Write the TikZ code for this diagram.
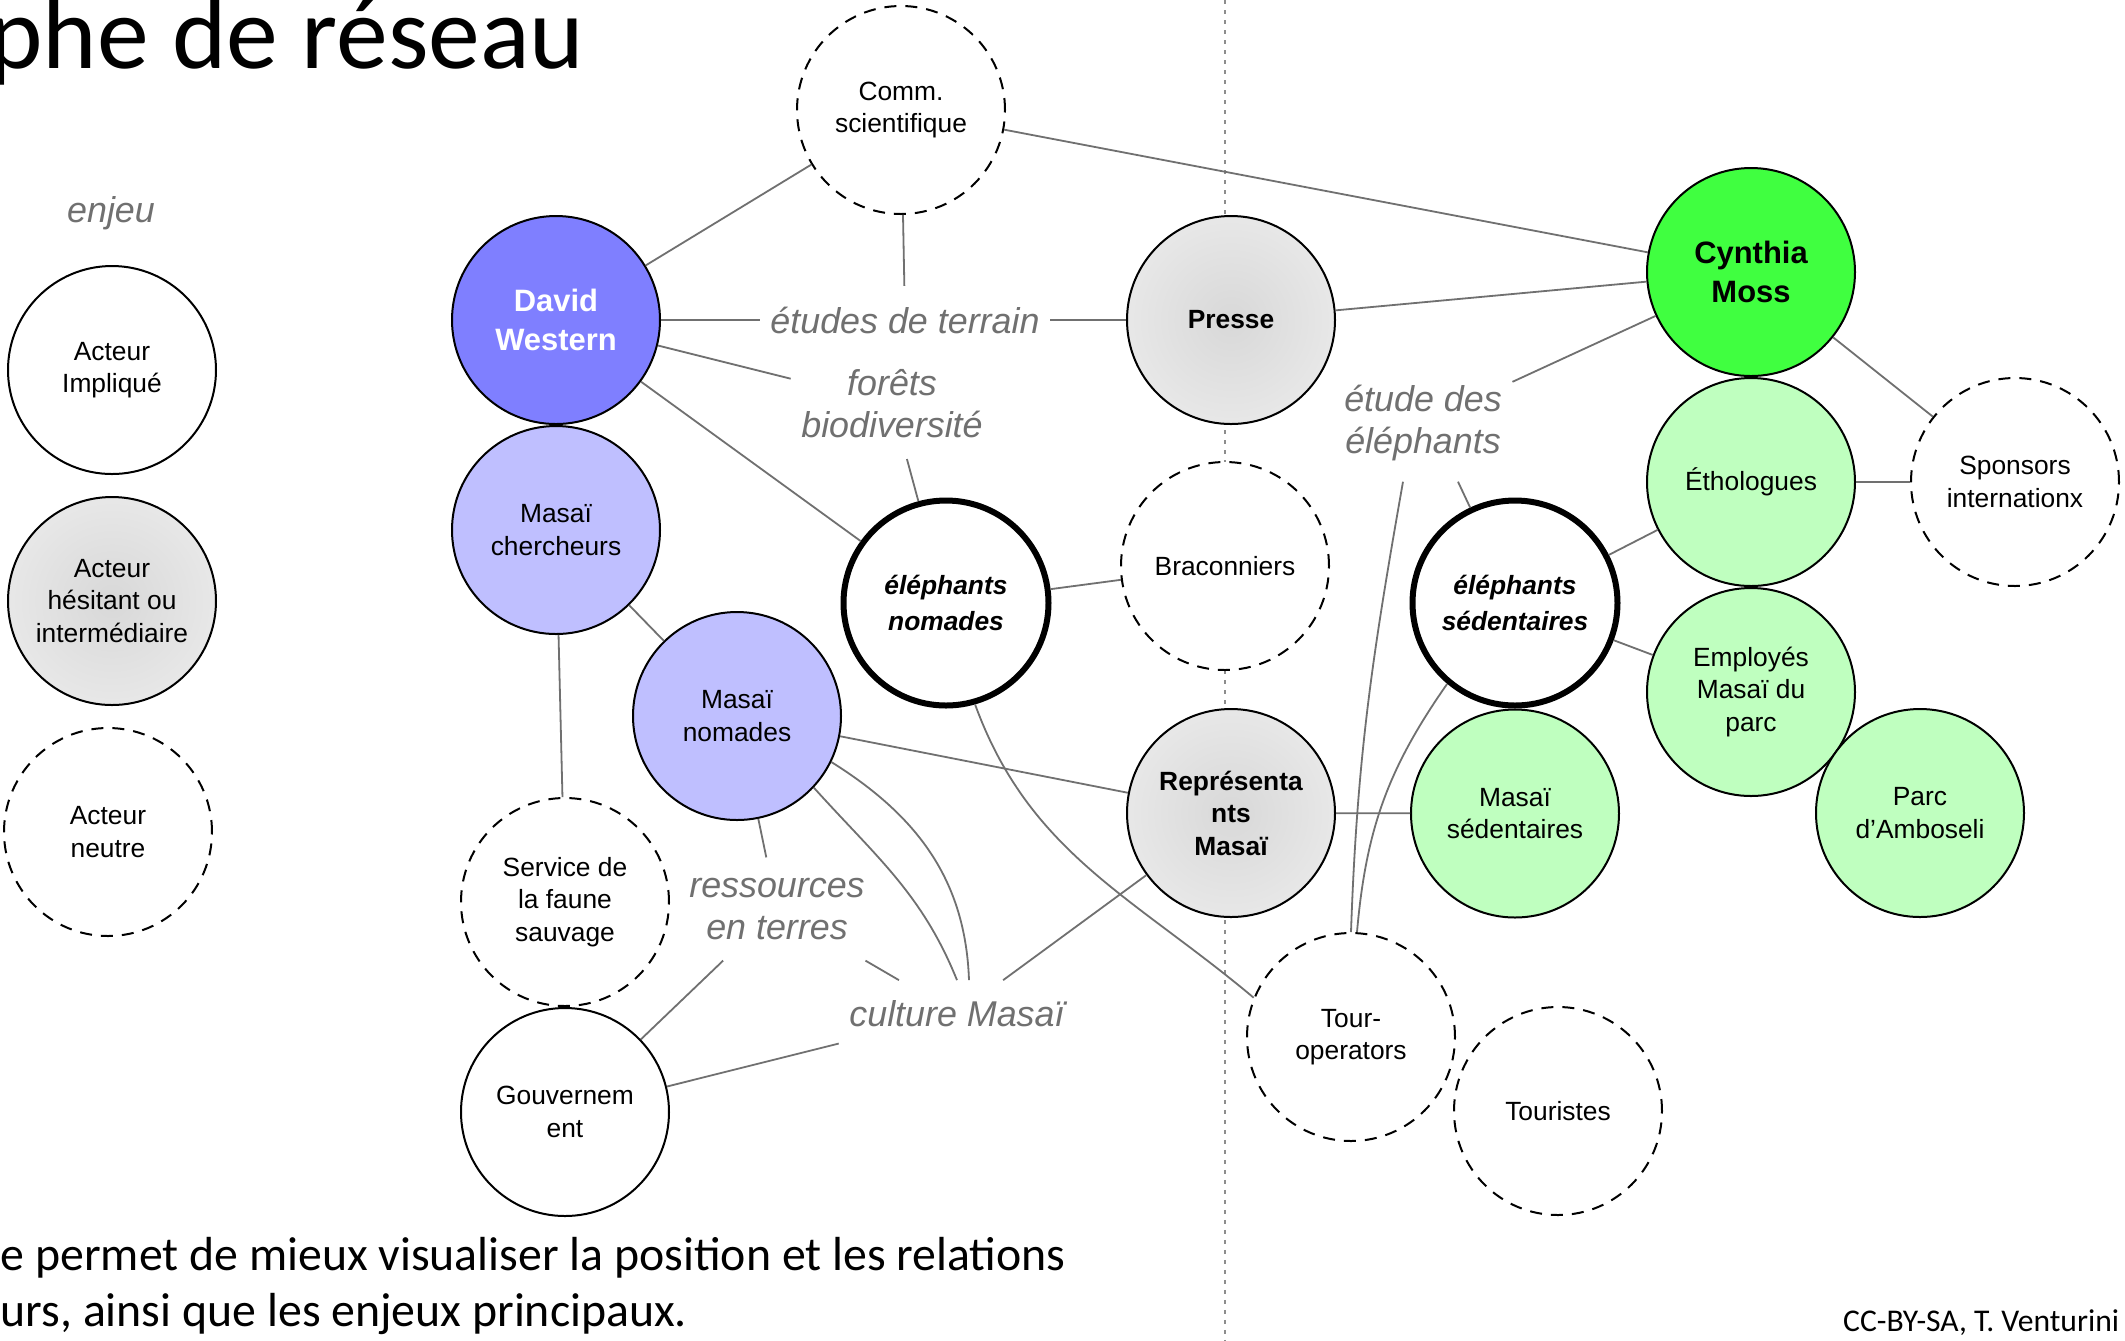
\documentclass[tikz,border=0pt]{standalone}
\usepackage{fontspec}
\setmainfont{Liberation Sans}
\newfontfamily\slidefont{Carlito}
\usetikzlibrary{positioning}
\definecolor{daveBlue}{RGB}{127,127,255}
\definecolor{masaiLilac}{RGB}{191,191,255}
\definecolor{mossGreen}{RGB}{64,255,64}
\definecolor{paleGreen}{RGB}{191,255,191}
\definecolor{linkGrey}{RGB}{112,112,112}
\definecolor{issueGrey}{RGB}{112,112,112}
\definecolor{grainMid}{RGB}{216,216,216}
\definecolor{grainEdge}{RGB}{247,247,247}
\pgfdeclareradialshading{grain}{\pgfpoint{0bp}{0bp}}{color(0bp)=(grainMid); color(50bp)=(grainEdge)}

\begin{document}
\begin{tikzpicture}[x=0.1mm, y=0.1mm,
  actor/.style={circle, draw=black, line width=0.2mm, fill=white, minimum size=20.8mm,
                inner sep=0pt, align=center, font=\fontsize{7.5}{9.25}\selectfont},
  lead/.style={actor, font=\bfseries\fontsize{8.8}{11.1}\selectfont},
  hesitant/.style={actor, shade, shading=grain},
  neutral/.style={actor, dash pattern=on 1.2mm off 0.9mm},
  stake/.style={actor, line width=0.6mm, minimum size=20.5mm,
                font=\bfseries\itshape\fontsize{7.5}{10}\selectfont},
  issue/.style={text=issueGrey, align=center, inner xsep=1mm, inner ysep=2mm,
                font=\itshape\fontsize{10.2}{12}\selectfont},
  link/.style={draw=linkGrey, line width=0.18mm},
  slide/.style={inner sep=0pt, text=black}
]
\fill[white] (0,0) rectangle (2125,-1340);
\useasboundingbox (0,0) rectangle (2125,-1340);
\draw[linkGrey!80, line width=0.12mm, dash pattern=on 0.4mm off 0.6mm] (1225,0) -- (1225,-1340);

\node[slide, anchor=base east, font=\slidefont\fontsize{29.5}{34}\selectfont] (title) at (585,-68) {phe de réseau};
\node[slide, anchor=base west, font=\slidefont\fontsize{13.6}{16}\selectfont] (note) at (0,-1270)
  {e permet de mieux visualiser la position et les relations};
\node[slide, anchor=base west, font=\slidefont\fontsize{13.6}{16}\selectfont] (note2) at (0,-1326)
  {urs, ainsi que les enjeux principaux.};
\node[slide, anchor=base east, font=\slidefont\fontsize{9}{10}\selectfont] (credit) at (2120,-1331)
  {CC-BY-SA, T. Venturini};

\node[issue] (enjeu) at (111,-213) {enjeu};
\node[actor] (impl) at (112,-370) {Acteur\\Impliqué};
\node[hesitant, below=2.1mm of impl] (hesit) {Acteur\\hésitant ou\\intermédiaire};
\node[neutral, below=2.1mm of hesit, xshift=-0.4mm] (neutre) {Acteur\\neutre};

\node[neutral] (comm) at (901,-110) {Comm.\\scientifique};
\node[lead, fill=daveBlue, text=white] (dw) at (556,-320) {David\\Western};
\node[actor, fill=masaiLilac, below=0mm of dw] (mcherch) {Masaï\\chercheurs};
\node[actor, fill=masaiLilac] (mnom) at (737,-716) {Masaï\\nomades};
\node[neutral] (faune) at (565,-902) {Service de\\la faune\\sauvage};
\node[actor, below=0mm of faune] (gouv) {Gouvernem\\ent};
\node[stake] (nomele) at (946,-603) {éléphants\\nomades};
\node[hesitant, font=\bfseries\fontsize{7.5}{9.25}\selectfont] (presse) at (1231,-320) {Presse};
\node[neutral] (bracon) at (1225,-566) {Braconniers};
\node[hesitant, font=\bfseries\fontsize{7.5}{9.25}\selectfont] (repr) at (1231,-813) {Représenta\\nts\\Masaï};
\node[neutral] (tour) at (1351,-1037) {Tour-\\operators};
\node[neutral] (tourist) at (1558,-1111) {Touristes};
\node[lead, fill=mossGreen] (moss) at (1751,-272) {Cynthia\\Moss};
\node[actor, fill=paleGreen, below=0mm of moss] (etho) {Éthologues};
\node[neutral, right=5.4mm of etho] (spons) {Sponsors\\internationx};
\node[actor, fill=paleGreen, below=0mm of etho] (employ) {Employés\\Masaï du\\parc};
\node[actor, fill=paleGreen] (parc) at (1920,-813) {Parc\\d’Amboseli};
\node[stake] (sedele) at (1515,-603) {éléphants\\sédentaires};
\node[actor, fill=paleGreen, below=0mm of sedele] (msed) {Masaï\\sédentaires};

\node[issue] (etudes) at (905,-320) {études de terrain};
\node[issue] (forets) at (892,-404) {forêts\\biodiversité};
\node[issue] (etudeel) at (1423,-423) {étude des\\éléphants};
\node[issue] (ressources) at (777,-909) {ressources\\en terres};
\node[issue] (culture) at (957,-1014) {culture Masaï};

\draw[link] (dw) -- (comm);
\draw[link] (comm) -- (moss);
\draw[link] (comm) -- (etudes);
\draw[link] (dw) -- (etudes);
\draw[link] (etudes) -- (presse);
\draw[link] (dw) -- (forets);
\draw[link] (forets) -- (nomele);
\draw[link] (dw) -- (nomele);
\draw[link] (presse) -- (moss);
\draw[link] (etudeel) -- (moss);
\draw[link] ([xshift=3.5mm]etudeel.south) -- (sedele);
\draw[link] ([xshift=-2mm]etudeel.south) to[out=-100, in=88] (tour.north);
\draw[link] (sedele.230) to[out=-125, in=85] ([xshift=0.6mm]tour.north);
\draw[link] (etho) -- (spons);
\draw[link] (moss) -- (spons);
\draw[link] (etho) -- (sedele);
\draw[link] (employ) -- (sedele);
\draw[link] (repr) -- (msed);
\draw[link] (mnom) -- (repr);
\draw[link] (repr) -- (culture);
\draw[link] (mnom.-43) to[out=-48, in=112] (culture.north);
\draw[link] (mnom.-26) to[out=-32, in=92] ([xshift=1.2mm]culture.north);
\draw[link] (mnom) -- (ressources);
\draw[link] (ressources) -- (gouv);
\draw[link] (ressources) -- (culture);
\draw[link] (gouv) -- (culture);
\draw[link] (mcherch) -- (mnom);
\draw[link] (mcherch) -- (faune);
\draw[link] (nomele) -- (bracon);
\draw[link] (nomele.-74) to[out=-70, in=140] (tour.158);
\end{tikzpicture}
\end{document}
